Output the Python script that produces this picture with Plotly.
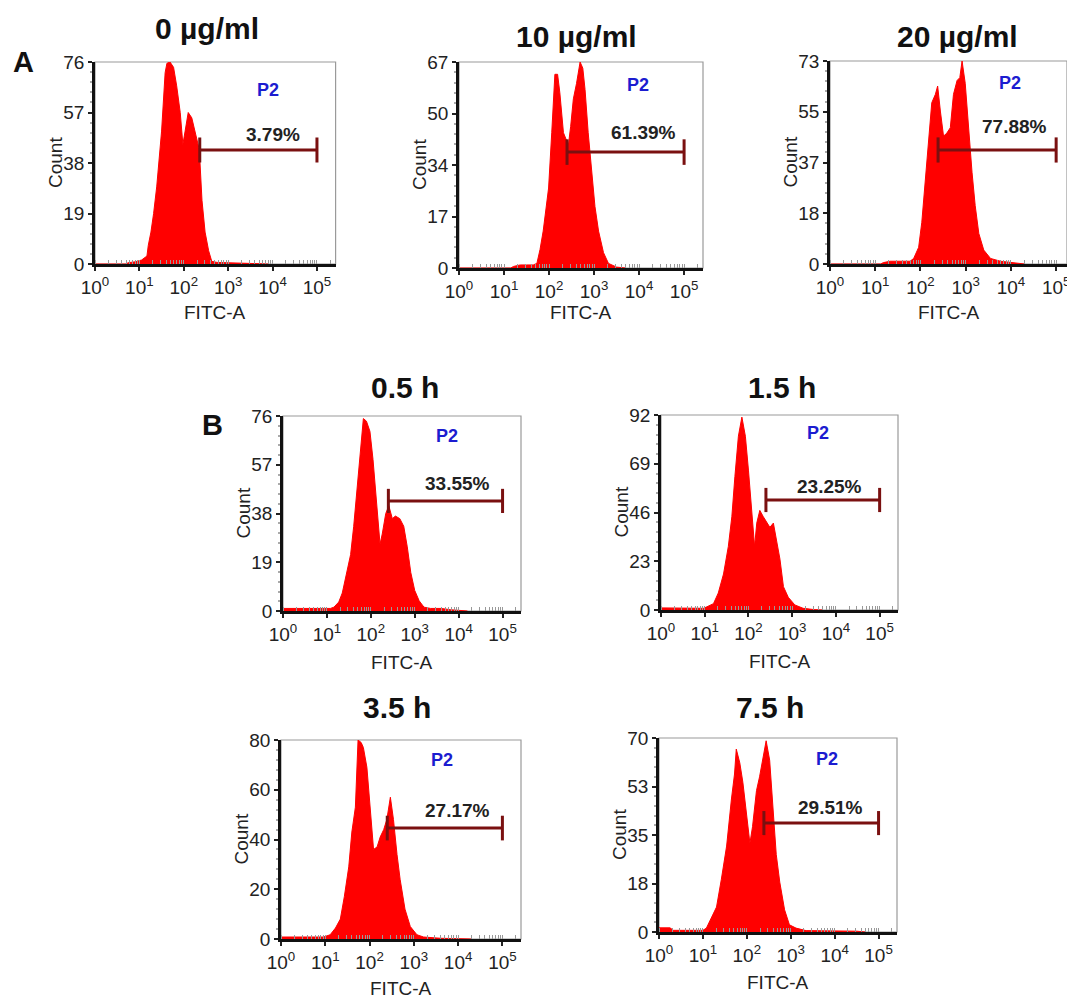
import plotly.graph_objects as go

W, H = 1067, 998

# ---------------- data ----------------
panel_titles = ["0 µg/ml", "10 µg/ml", "20 µg/ml", "0.5 h", "1.5 h", "3.5 h", "7.5 h"]
percent_labels = ["3.79%", "61.39%", "77.88%", "33.55%", "23.25%", "27.17%", "29.51%"]
gate_name = "P2"
y_max = [76, 67, 73, 76, 92, 80, 70]
y_tick_labels = [
    ["0", "19", "38", "57", "76"],
    ["0", "17", "34", "50", "67"],
    ["0", "18", "37", "55", "73"],
    ["0", "19", "38", "57", "76"],
    ["0", "23", "46", "69", "92"],
    ["0", "20", "40", "60", "80"],
    ["0", "18", "35", "53", "70"],
]
x_tick_vals = [1, 10, 100, 1000, 10000, 100000]
x_tick_text = ["10<sup>0</sup>", "10<sup>1</sup>", "10<sup>2</sup>",
               "10<sup>3</sup>", "10<sup>4</sup>", "10<sup>5</sup>"]
gate_start = [229, 251, 245, 251, 251, 251, 245]
gate_end = [100000, 100000, 100000, 100000, 100000, 100000, 100000]

# histogram profiles: log10(FITC-A) positions and counts
a1_log = [0, 0.7, 0.75, 0.9, 1.05, 1.17, 1.2, 1.26, 1.32, 1.39, 1.5, 1.58, 1.62, 1.69, 1.77, 1.84,
          1.92, 1.98, 2.03, 2.1, 2.18, 2.26, 2.35, 2.41, 2.48, 2.56, 2.63, 2.75, 3.0, 3.3, 3.6, 3.8, 3.9]
a1_count = [0, 0, 0.5, 0.8, 1.5, 3, 7, 12, 19, 29, 50, 72, 75.5, 76, 74, 67,
            57, 45, 50, 57, 55, 49, 43, 24, 12, 5, 1, 0.6, 0.5, 0.4, 0.4, 0.3, 0]

a2_log = [0, 1.15, 1.21, 1.36, 1.5, 1.65, 1.73, 1.8, 1.87, 1.99, 2.06, 2.13, 2.19, 2.24, 2.32, 2.38,
          2.43, 2.48, 2.54, 2.61, 2.69, 2.75, 2.8, 2.87, 2.95, 3.02, 3.1, 3.21, 3.32, 3.5, 3.7]
a2_count = [0, 0, 0.5, 1, 1, 1, 1.5, 6, 12, 26, 44, 63, 63, 57, 44, 42,
            40, 46, 55, 60, 67, 65, 58, 44, 31, 20, 12, 5, 1.5, 0.3, 0]

a3_log = [0, 1.12, 1.18, 1.33, 1.55, 1.77, 1.85, 1.96, 2.03, 2.1, 2.18, 2.25, 2.33, 2.38, 2.44, 2.51,
          2.58, 2.66, 2.73, 2.81, 2.87, 2.92, 2.99, 3.06, 3.14, 3.21, 3.29, 3.4, 3.55, 3.77, 4.0, 4.21, 4.3]
a3_count = [0, 0, 0.5, 1, 1, 1, 2, 6, 15, 28, 45, 58, 61, 64, 55, 46,
            47, 49, 61, 66, 67, 73, 65, 49, 33, 21, 11, 5, 2, 1, 0.5, 0.3, 0]

b1_log = [0, 0.3, 0.6, 0.9, 1.08, 1.16, 1.27, 1.35, 1.46, 1.54, 1.61, 1.69, 1.77, 1.83, 1.9, 1.98,
          2.05, 2.13, 2.21, 2.26, 2.34, 2.41, 2.49, 2.56, 2.66, 2.75, 2.83, 2.91, 3.0, 3.1, 3.21,
          3.36, 3.6, 3.82, 4.0, 4.2]
b1_count = [1, 1, 0.8, 1, 1, 1.5, 3.5, 7, 15, 22, 33, 48, 65, 75, 74, 70,
            59, 43, 26, 30, 38, 41, 36, 37, 36, 33, 25, 15, 8, 4, 1.5,
            1, 1, 0.5, 0.3, 0]

b2_log = [0, 0.5, 0.97, 1.05, 1.2, 1.31, 1.43, 1.54, 1.62, 1.69, 1.77, 1.85, 1.93, 2.0, 2.07, 2.14,
          2.19, 2.26, 2.34, 2.42, 2.49, 2.57, 2.64, 2.72, 2.8, 2.91, 3.06, 3.25, 3.5, 3.7]
b2_count = [1, 0.8, 0.8, 1.5, 3, 8, 17, 30, 44, 63, 82, 91, 82, 66, 47, 30,
            41, 47, 44, 41, 39, 41, 33, 24, 11, 6, 2.4, 0.8, 0.2, 0]

b3_log = [0, 0.5, 0.96, 1.11, 1.23, 1.34, 1.43, 1.53, 1.6, 1.68, 1.74, 1.81, 1.86, 1.94, 2.02, 2.09,
          2.17, 2.24, 2.32, 2.39, 2.47, 2.54, 2.62, 2.69, 2.8, 2.92, 3.07, 3.22, 3.6, 4.1, 4.3]
b3_count = [0.8, 0.8, 0.8, 1.7, 4.4, 8, 17, 29, 43, 53, 80, 79, 77, 69, 53, 36,
            37, 41, 44, 48, 57, 48, 34, 24, 12, 5, 1.7, 0.8, 0.3, 0.3, 0]

b4_log = [0, 0.25, 0.33, 1.0, 1.08, 1.2, 1.31, 1.42, 1.54, 1.65, 1.72, 1.76, 1.84, 1.91, 1.99, 2.07,
          2.13, 2.22, 2.29, 2.37, 2.44, 2.52, 2.59, 2.67, 2.75, 2.86, 2.97, 3.12, 3.35, 4.0, 4.5, 4.7]
b4_count = [1.5, 1.5, 0.6, 0.6, 1.4, 5.7, 9, 19, 31, 48, 57, 66, 61, 54, 43, 32,
            38, 51, 56, 63, 69, 62, 45, 28, 18, 8, 2.6, 1.4, 0.5, 0.5, 0.3, 0]

hist_logs = [a1_log, a2_log, a3_log, b1_log, b2_log, b3_log, b4_log]
hist_counts = [a1_count, a2_count, a3_count, b1_count, b2_count, b3_count, b4_count]

# P2 / percent label placements (log10 x, count y)
p2_pos = [(3.9, 65.4), (3.98, 59.5), (3.98, 65.1), (3.74, 68.2), (3.58, 83.5), (3.64, 72), (3.82, 62.4)]
pct_pos = [(4.0, 48.6), (4.09, 44.2), (4.09, 49.3), (3.97, 49.5), (3.86, 58.1), (3.98, 51.8), (3.91, 45.1)]
gate_y = [42.9, 37.7, 41.0, 42.9, 51.9, 44.6, 39.3]

# ---------------- layout geometry (pixels) ----------------
# left, right, top, bottom, x log max
boxes = [
    (95, 335.6, 62, 264, 5.42),
    (459, 703, 62, 268, 5.42),
    (830, 1067, 61, 264, 5.24),
    (283, 521, 416, 611, 5.42),
    (661, 898, 415, 610, 5.42),
    (281, 521, 740, 939, 5.42),
    (659, 897, 738, 932, 5.42),
]
title_px = [(207, 28), (576, 36), (957, 37), (405, 388), (782, 387), (397, 707), (770, 707)]
fitc_shift = [48, 44, 48, 51, 52, 49, 50]
letters = [("A", 23, 62), ("B", 212, 425)]

FONT = "Liberation Sans, Arial, sans-serif"
RED = "#ff0000"
GATE = "#7a1010"
BLUE = "#1c1cd0"

fig = go.Figure()
layout = dict(
    width=W, height=H, margin=dict(l=0, r=0, t=0, b=0, pad=0, autoexpand=False),
    paper_bgcolor="white", plot_bgcolor="white",
    showlegend=False, font=dict(family=FONT, size=18, color="#222"),
)
annotations = []
shapes = []

for i in range(7):
    n = "" if i == 0 else str(i + 1)
    xa, ya = "x" + n, "y" + n
    L, R, T, B, xmax = boxes[i]
    ym = y_max[i]

    fig.add_trace(go.Scatter(
        x=[10 ** v for v in hist_logs[i]], y=hist_counts[i],
        xaxis=xa, yaxis=ya, mode="lines", fill="tozeroy",
        fillcolor=RED, line=dict(color=RED, width=1), hoverinfo="skip"))

    # gate marker
    g0, g1, gy = gate_start[i], gate_end[i], gate_y[i]
    cap = 0.062 * ym
    fig.add_trace(go.Scatter(
        x=[g0, g1, None, g0, g0, None, g1, g1],
        y=[gy, gy, None, gy - cap, gy + cap, None, gy - cap, gy + cap],
        xaxis=xa, yaxis=ya, mode="lines",
        line=dict(color=GATE, width=3), hoverinfo="skip"))

    step = ym / 4
    layout["xaxis" + n] = dict(
        type="log", range=[0, xmax], domain=[L / W, R / W], anchor=ya, automargin=False,
        tickmode="array", tickvals=x_tick_vals, ticktext=x_tick_text,
        ticks="outside", ticklen=4, tickwidth=1.5, tickcolor="#222",
        showline=True, linecolor="#111", linewidth=2.5, showgrid=False, zeroline=False,
        tickfont=dict(size=19, color="#222"), ticklabeloverflow="allow",
        minor=dict(ticks="inside", ticklen=4, tickcolor="#999", tickwidth=1, dtick="D1", showgrid=False),
    )
    layout["yaxis" + n] = dict(
        range=[0, ym], domain=[1 - B / H, 1 - T / H], anchor=xa, automargin=False,
        tickmode="array", tickvals=[k * step for k in range(5)], ticktext=y_tick_labels[i],
        ticks="outside", ticklen=4, tickwidth=1.5, tickcolor="#222",
        showline=True, linecolor="#111", linewidth=2.5, showgrid=False, zeroline=False,
        tickfont=dict(size=19, color="#222"),
        minor=dict(ticks="outside", ticklen=2, tickcolor="#aaa",
                   tickvals=[k * step / 5 for k in range(21)], showgrid=False),
    )

    # grey frame (top/right)
    shapes.append(dict(type="rect", xref=xa + " domain", yref=ya + " domain",
                       x0=0, x1=1, y0=0, y1=1, line=dict(color="#9a9a9a", width=1.2),
                       layer="below"))

    # panel title
    tx, ty = title_px[i]
    annotations.append(dict(text=panel_titles[i], x=tx / W, y=1 - ty / H, xref="paper", yref="paper",
                            showarrow=False, xanchor="center", yanchor="middle",
                            font=dict(size=30, color="#111", family=FONT, weight="bold")))
    # axis titles
    annotations.append(dict(text="Count", x=0, y=0.5, xref=xa + " domain", yref=ya + " domain",
                            xshift=-40, textangle=-90, showarrow=False,
                            xanchor="center", yanchor="middle",
                            font=dict(size=19, color="#222", family=FONT)))
    annotations.append(dict(text="FITC-A", x=0.5, y=0, xref=xa + " domain", yref=ya + " domain",
                            yshift=-fitc_shift[i], showarrow=False,
                            xanchor="center", yanchor="middle",
                            font=dict(size=19, color="#222", family=FONT)))
    # P2 and percentage
    px_, py_ = p2_pos[i]
    annotations.append(dict(text=gate_name, x=px_, y=py_, xref=xa, yref=ya, showarrow=False,
                            xanchor="center", yanchor="middle",
                            font=dict(size=18, color=BLUE, family=FONT, weight="bold")))
    qx, qy = pct_pos[i]
    annotations.append(dict(text=percent_labels[i], x=qx, y=qy, xref=xa, yref=ya, showarrow=False,
                            xanchor="center", yanchor="middle",
                            font=dict(size=19, color="#222", family=FONT, weight="bold")))

for letter, lx, ly in letters:
    annotations.append(dict(text=letter, x=lx / W, y=1 - ly / H, xref="paper", yref="paper",
                            showarrow=False, xanchor="center", yanchor="middle",
                            font=dict(size=29, color="#111", family=FONT, weight="bold")))

layout["annotations"] = annotations
layout["shapes"] = shapes
fig.update_layout(**layout)
fig.write_html("out.html", config={"displayModeBar": False},
               post_script="document.body.style.margin='0';document.body.style.overflow='hidden';")
